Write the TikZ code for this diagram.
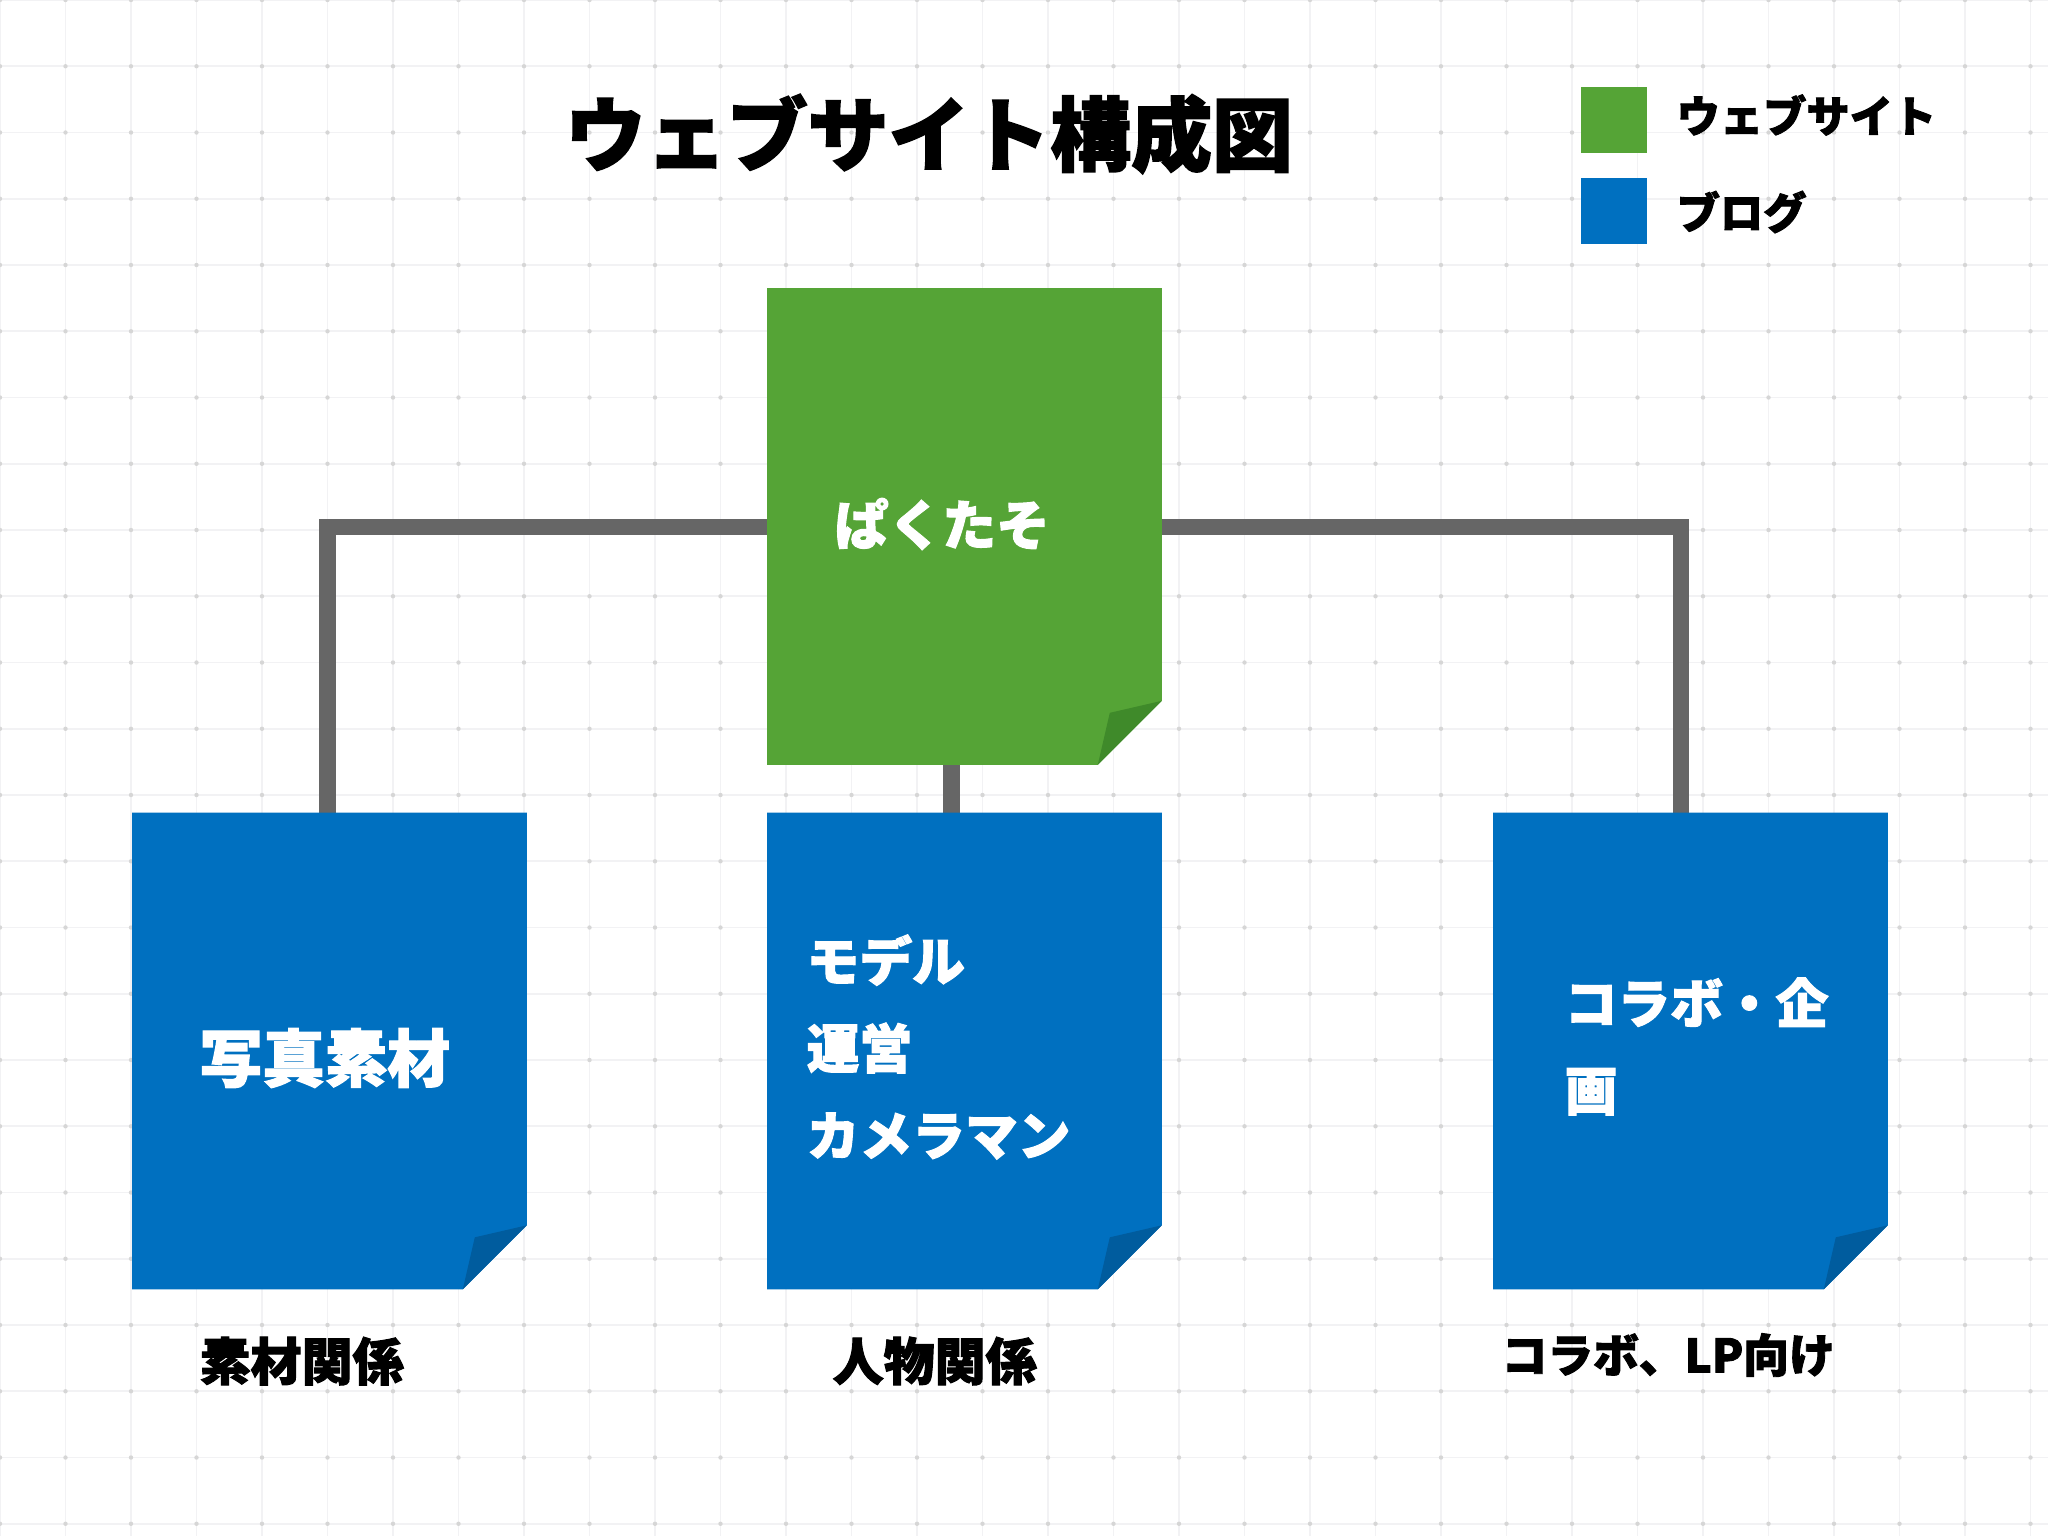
\documentclass[tikz,border=0pt]{standalone}
\usepackage{fontspec}
\setmainfont{Noto Sans CJK JP}[BoldFeatures={FakeBold=2}]
\definecolor{webgreen}{HTML}{55A436}
\definecolor{webgreendark}{HTML}{3F8A2A}
\definecolor{blogblue}{HTML}{0070C0}
\definecolor{blogbluedark}{HTML}{005C9E}
\definecolor{conngray}{HTML}{666666}
\definecolor{gridline}{HTML}{F2F2F4}
\definecolor{griddot}{HTML}{D6D6D6}
\newcommand\foldcard[3]{%
  \fill[#2] (#1.north west) -- (#1.north east) -- ([yshift=0.64cm]#1.south east)
    -- ([xshift=-0.64cm]#1.south east) -- (#1.south west) -- cycle;
  \fill[#3] ([yshift=0.64cm]#1.south east) -- ([xshift=-0.52cm,yshift=0.52cm]#1.south east)
    -- ([xshift=-0.64cm]#1.south east) -- cycle;}
\tikzset{
  card/.style={rectangle, inner sep=0pt, minimum width=3.93cm, minimum height=4.75cm},
  conn/.style={draw=conngray, line width=0.16cm},
  lbl/.style={inner sep=0pt, font=\bfseries},
  wlbl/.style={lbl, text=white},
}
\begin{document}
\begin{tikzpicture}[x=0.01cm, y=-0.01cm]
\useasboundingbox (0,0) rectangle (2048,1536);
\fill[white] (0,0) rectangle (2048,1536);
% grid
\foreach \i in {0,...,31} \draw[gridline, line width=0.016cm] (\i*65.5,0) -- (\i*65.5,1536);
\foreach \j in {0,...,23} \draw[gridline, line width=0.016cm] (0,\j*66.25) -- (2048,\j*66.25);
\foreach \i in {0,...,31} \foreach \j in {0,...,23} \fill[griddot] (\i*65.5,\j*66.25) circle (0.022cm);
% cards (anchors)
\node[card] (web) at (964.5,526.5) {};
\node[card] (photo) at (329.5,1051) {};
\node[card] (model) at (964.5,1051) {};
\node[card] (collab) at (1690.5,1051) {};
% connectors
\draw[conn] (web.west) -| ([xshift=-0.02cm]photo.north);
\draw[conn] (web.east) -| ([xshift=-0.095cm]collab.north);
\draw[conn] ([xshift=-0.13cm]web.south) -- ([xshift=-0.13cm]model.north);
% card fills
\foldcard{web}{webgreen}{webgreendark}
\foldcard{photo}{blogblue}{blogbluedark}
\foldcard{model}{blogblue}{blogbluedark}
\foldcard{collab}{blogblue}{blogbluedark}
% title and legend
\node[lbl, font=\bfseries\fontsize{23pt}{28pt}\selectfont] (title) at (929,134) {ウェブサイト構成図};
\node[fill=webgreen, minimum size=0.66cm, inner sep=0pt, anchor=north west] (legweb) at (1580,86) {};
\node[fill=blogblue, minimum size=0.66cm, inner sep=0pt, anchor=north west] (legblog) at (1580,177) {};
\node[lbl, anchor=west, font=\bfseries\fontsize{12.3pt}{15pt}\selectfont] (legwebtxt) at (1676,115) {ウェブサイト};
\node[lbl, anchor=west, font=\bfseries\fontsize{12.3pt}{15pt}\selectfont] (legblogtxt) at (1676,212) {ブログ};
% card texts
\node[wlbl, anchor=west, font=\bfseries\fontsize{15.3pt}{18pt}\selectfont] (webtxt) at (834,524) {ぱくたそ};
\node[wlbl, anchor=west, font=\bfseries\fontsize{17.8pt}{21pt}\selectfont] (phototxt) at (199,1058) {写真素材};
\node[wlbl, anchor=west, align=left, font=\bfseries\fontsize{15pt}{24.8pt}\selectfont] (modeltxt) at (806,1047) {モデル\\運営\\カメラマン};
\node[wlbl, anchor=west, align=left, font=\bfseries\fontsize{15pt}{24.8pt}\selectfont] (collabtxt) at (1564,1046.5) {コラボ・企\\画};
% bottom labels
\node[lbl, anchor=west, font=\bfseries\fontsize{14.5pt}{17pt}\selectfont] (photolbl) at (199,1361) {素材関係};
\node[lbl, anchor=west, font=\bfseries\fontsize{14.5pt}{17pt}\selectfont] (modellbl) at (832,1361) {人物関係};
\node[lbl, anchor=west, font=\bfseries\fontsize{13pt}{16pt}\selectfont] (collablbl) at (1501,1355) {コラボ、LP向け};
\end{tikzpicture}
\end{document}
